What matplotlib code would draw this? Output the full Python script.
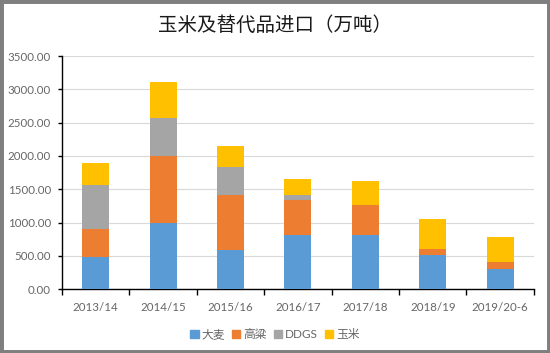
import matplotlib
matplotlib.use("Agg")
import matplotlib.pyplot as plt
from matplotlib.patches import Rectangle, Patch

plt.rcParams['font.family'] = ['Lato', 'Noto Sans CJK SC', 'DejaVu Sans']

categories = ["2013/14", "2014/15", "2015/16", "2016/17", "2017/18", "2018/19", "2019/20-6"]
series_names = ["大麦", "高粱", "DDGS", "玉米"]
barley = [482, 990, 586, 818, 816, 518, 305]
sorghum = [425, 1016, 830, 518, 446, 83, 109]
ddgs = [662, 558, 420, 74, 4, 6, 0]
corn = [330, 548, 320, 248, 353, 444, 364]
colors = ["#5B9BD5", "#ED7D31", "#A5A5A5", "#FFC000"]
yticks = [0, 500, 1000, 1500, 2000, 2500, 3000, 3500]

fig = plt.figure(figsize=(5.5, 3.53), dpi=100)
ax = fig.add_axes([0.1127, 0.181, 0.858, 0.66])

x = list(range(len(categories)))
bottom = [0] * len(categories)
for name, vals, c in zip(series_names, [barley, sorghum, ddgs, corn], colors):
    ax.bar(x, vals, width=0.4, bottom=bottom, color=c, label=name, zorder=3)
    bottom = [b + v for b, v in zip(bottom, vals)]

ax.set_xlim(-0.5, len(categories) - 0.5)
ax.set_ylim(0, 3500)
ax.set_yticks(yticks)
ax.set_yticklabels([f"{v:.2f}" for v in yticks])
ax.yaxis.grid(True, color="#D9D9D9", linewidth=0.8, zorder=0)
ax.set_axisbelow(True)

ax.set_xticks(x)
ax.set_xticklabels(categories)
ax.set_xticks([i - 0.5 for i in range(len(categories) + 1)], minor=True)
ax.tick_params(axis='x', which='major', length=0, pad=9, labelsize=8.3, labelcolor="#666666")
ax.tick_params(axis='x', which='minor', length=4, width=1, color="black", direction="out")
ax.tick_params(axis='y', length=3, width=1, pad=5, labelsize=8.3, labelcolor="#666666", color="black")

for s in ["top", "right"]:
    ax.spines[s].set_visible(False)
ax.spines["left"].set_color("black")
ax.spines["bottom"].set_color("black")
ax.spines["left"].set_linewidth(1)
ax.spines["bottom"].set_linewidth(1)

fig.text(0.5, 0.929, "玉米及替代品进口（万吨）", ha="center", va="center", fontsize=14,
         color="#1a1a1a", family=['Noto Sans CJK SC', 'DejaVu Sans'], weight="medium")

handles = [Patch(color=c) for c in colors]
fig.legend(handles, series_names, loc="center", bbox_to_anchor=(0.5, 0.052), ncol=4, frameon=False,
           handlelength=0.7, handleheight=0.7, handletextpad=0.25, columnspacing=0.6,
           prop={'size': 8.5, 'family': ['Lato', 'Noto Sans CJK SC']}, labelcolor="#666666")

fig.patches.append(Rectangle((0, 0), 1, 1, transform=fig.transFigure, fill=False,
                             edgecolor="#7F7F7F", linewidth=5))

fig.savefig("out.png", dpi=100)
